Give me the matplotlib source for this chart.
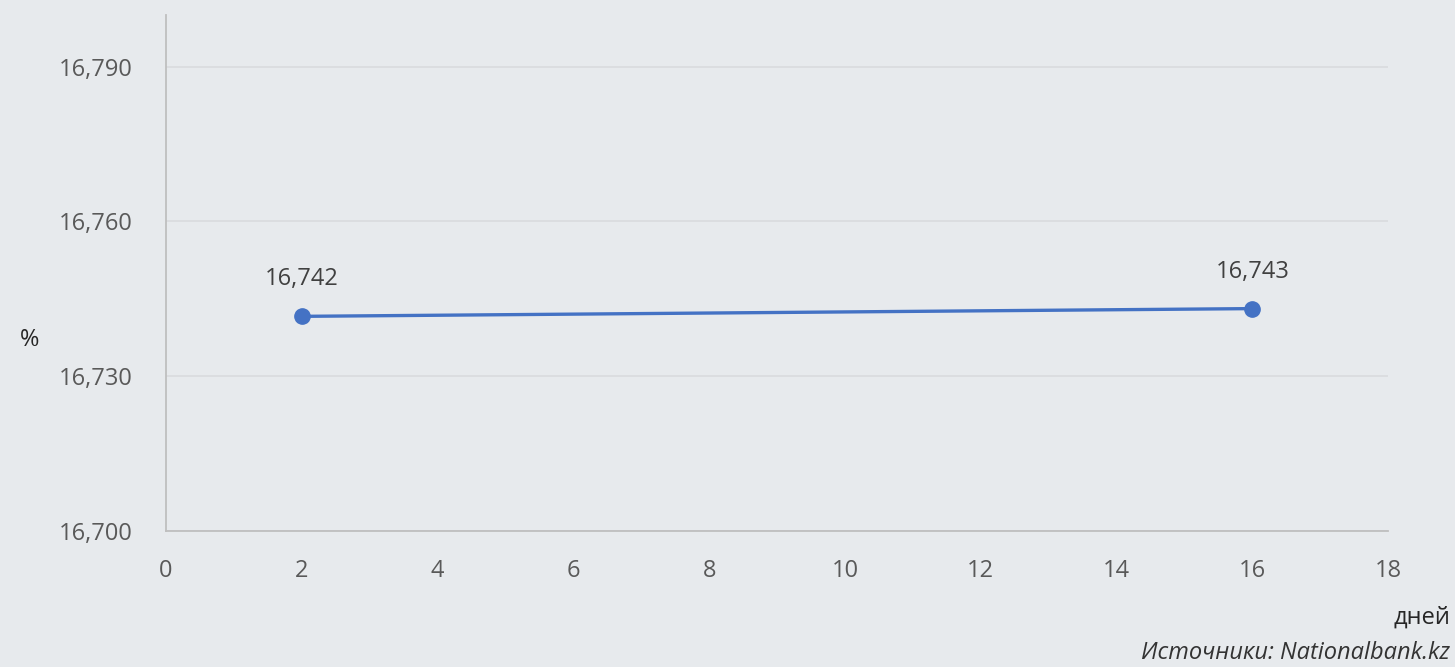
import matplotlib.pyplot as plt
import matplotlib

matplotlib.rcParams['font.family'] = ['Open Sans', 'DejaVu Sans']

# data (labels show 3 decimals)
days = [2, 16]
rates = [16.7416, 16.7431]
x_ticks = [0, 2, 4, 6, 8, 10, 12, 14, 16, 18]
y_ticks = [16.700, 16.730, 16.760, 16.790]

bg = '#E7EAED'
line_color = '#4472C4'

fig = plt.figure(figsize=(14.55, 6.67), dpi=100)
fig.patch.set_facecolor(bg)
ax = fig.add_axes([0.1141, 0.2039, 0.954 - 0.1141, 0.9775 - 0.2039])
ax.set_facecolor(bg)

ax.plot(days, rates, color=line_color, lw=2.4, marker='o', markersize=11,
        solid_capstyle='round', zorder=3)
for x, y in zip(days, rates):
    ax.annotate(f'{y:.3f}'.replace('.', ','), (x, y), xytext=(0, 18),
                textcoords='offset points', ha='center', va='bottom',
                fontsize=17, color='#404040')

ax.set_xlim(0, 18)
ax.set_ylim(16.70, 16.80)
ax.set_xticks(x_ticks)
ax.set_yticks(y_ticks)
ax.set_yticklabels([f'{v:.3f}'.replace('.', ',') for v in y_ticks])
ax.tick_params(axis='both', length=0, labelsize=17, colors='#595959')
ax.tick_params(axis='y', pad=24)
ax.tick_params(axis='x', pad=20)

ax.grid(axis='y', color='#D9DBDE', lw=1.2)
ax.set_axisbelow(True)
for s in ['top', 'right']:
    ax.spines[s].set_visible(False)
for s in ['left', 'bottom']:
    ax.spines[s].set_color('#BFBFBF')
    ax.spines[s].set_linewidth(1.3)

fig.text(30 / 1455, 1 - 340 / 667, '%', fontsize=17, color='#262626',
         ha='center', va='center')
fig.text(1450 / 1455, 1 - 618 / 667, 'дней', fontsize=17, color='#262626',
         ha='right', va='center')
fig.text(1450 / 1455, 1 - 653 / 667, 'Источники: Nationalbank.kz', fontsize=17,
         color='#333333', ha='right', va='center', style='italic')

fig.savefig('out.png', dpi=100, facecolor=bg)
